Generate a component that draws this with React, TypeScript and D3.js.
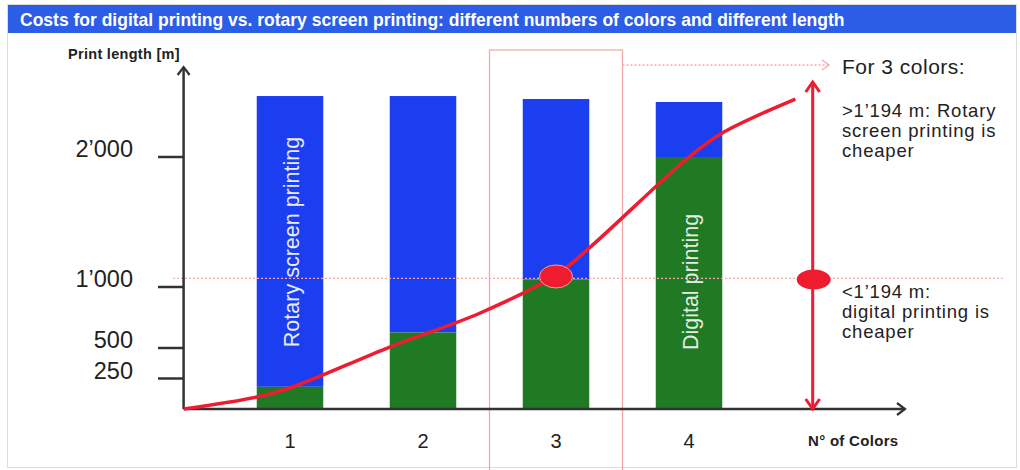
import React from "react";
import * as d3 from "d3";

// ---- data ----
const colorCounts = [1, 2, 3, 4];
const xTickLabels = ["1", "2", "3", "4"];
const totalLength = [2469, 2469, 2446, 2423]; // top of each bar (m)
const digitalLength = [182, 627, 1058, 2000]; // green part (m)
const yTickValues = [250, 500, 1000, 2000];
const yTickLabels = ["250", "500", "1\u2019000", "2\u2019000"];
const curveColors = [0.2, 0.75, 1, 1.75, 2.43, 3, 3.25, 4, 4.25, 4.8];
const curveLength = [0, 98, 172, 508, 787, 1092, 1300, 2000, 2185, 2446];
const breakEven = 1058;
const focusColors = 3;

const FONT = "'Liberation Sans', Arial, Helvetica, sans-serif";
const RED = "#ee1c2e";
const PINK = "#f6a8a8";
const BLUE = "#1b3ff0";
const GREEN = "#1f7a23";
const AXIS = "#333";

export default function App() {
  const W = 1020;
  const H = 470;
  const x = d3.scaleLinear().domain([1, 4]).range([290, 689]);
  const y = d3.scaleLinear().domain([0, 1000, 2000]).range([409, 287, 157]);
  const barW = x(1.25) - x(0.75);
  const x0 = x(0.2);
  const xEnd = 905;
  const y0 = y(0);
  const yTop = 67;
  const arrowX = x(4.93);

  const line = d3
    .line<number>()
    .x((_, i) => x(curveColors[i]))
    .y((d) => y(d))
    .curve(d3.curveCatmullRom.alpha(0.5));

  const boxL = x(focusColors - 0.5);
  const boxR = x(focusColors + 0.5);

  const chevron = (tx: number, ty: number, dir: "up" | "down" | "right", s = 7, l = 9) => {
    if (dir === "up") return `M${tx - s},${ty + l}L${tx},${ty}L${tx + s},${ty + l}`;
    if (dir === "down") return `M${tx - s},${ty - l}L${tx},${ty}L${tx + s},${ty - l}`;
    return `M${tx - l},${ty - s}L${tx},${ty}L${tx - l},${ty + s}`;
  };

  return (
    <svg
      width={W}
      height={H}
      style={{ position: "absolute", left: 0, top: 0, display: "block", background: "#fff" }}
      fontFamily={FONT}
    >
      <rect x={0} y={0} width={W} height={H} fill="#fff" />
      <rect x={7.5} y={4.5} width={1009} height={463} fill="none" stroke="#dcdcdc" />
      {/* title bar */}
      <rect x={8} y={5} width={1008} height={28} fill="#2b5de6" />
      <text x={20} y={26} fill="#fff" fontWeight="bold" fontSize={17.5}>
        Costs for digital printing vs. rotary screen printing: different numbers of colors and different length
      </text>

      {/* highlight box for 3 colors */}
      <rect x={boxL} y={50} width={boxR - boxL} height={H} fill="none" stroke={PINK} strokeWidth={1.3} />
      <line x1={boxR} x2={828} y1={65} y2={65} stroke={PINK} strokeWidth={1.3} strokeDasharray="2,2" />
      <path d={chevron(829, 65, "right", 5, 7)} fill="none" stroke={PINK} strokeWidth={1.3} />

      {/* bars */}
      {colorCounts.map((c, i) => (
        <g key={c}>
          <rect x={x(c) - barW / 2} y={y(totalLength[i])} width={barW} height={y(digitalLength[i]) - y(totalLength[i])} fill={BLUE} />
          <rect x={x(c) - barW / 2} y={y(digitalLength[i])} width={barW} height={y0 - y(digitalLength[i])} fill={GREEN} />
        </g>
      ))}

      {/* break-even dotted line */}
      <line x1={173} x2={1005} y1={y(breakEven) - 1} y2={y(breakEven) - 1} stroke={PINK} strokeWidth={1.3} strokeDasharray="2,2" />

      {/* bar labels */}
      <text
        transform={`translate(${x(1) + 9},${242}) rotate(-90)`}
        textAnchor="middle"
        fill="#e9ecfb"
        fontSize={21.5}
      >
        Rotary screen printing
      </text>
      <text
        transform={`translate(${x(4) + 9},${282}) rotate(-90)`}
        textAnchor="middle"
        fill="#e4ece4"
        fontSize={21.5}
      >
        Digital printing
      </text>

      {/* axes */}
      <line x1={x0} x2={x0} y1={y0} y2={yTop} stroke={AXIS} strokeWidth={2.5} />
      <path d={chevron(x0, yTop, "up", 6, 8)} fill="none" stroke={AXIS} strokeWidth={2.2} />
      <line x1={x0} x2={xEnd} y1={y0} y2={y0} stroke={AXIS} strokeWidth={2.5} />
      <path d={chevron(xEnd, y0, "right", 6, 8)} fill="none" stroke={AXIS} strokeWidth={2.2} />
      {yTickValues.map((v, i) => (
        <g key={v}>
          <line x1={158} x2={x0} y1={y(v)} y2={y(v)} stroke={AXIS} strokeWidth={2.5} />
          <text x={133} y={y(v)} textAnchor="end" fontSize={23.5} fill="#222">
            {yTickLabels[i]}
          </text>
        </g>
      ))}
      <text x={68} y={59} fontWeight="bold" fontSize={14.5} letterSpacing={0.3} fill="#222">
        Print length [m]
      </text>
      {colorCounts.map((c, i) => (
        <text key={c} x={x(c)} y={448} textAnchor="middle" fontSize={20} fill="#222">
          {xTickLabels[i]}
        </text>
      ))}
      <text x={808} y={446} fontWeight="bold" fontSize={15} letterSpacing={0.3} fill="#222">
        N° of Colors
      </text>

      {/* cost curve */}
      <path d={line(curveLength) || ""} fill="none" stroke={RED} strokeWidth={3.5} />

      {/* break-even markers */}
      <ellipse cx={x(focusColors)} cy={y(breakEven) - 3} rx={16.5} ry={11.5} fill={RED} stroke="#f6a0a0" strokeWidth={1} />
      <line x1={arrowX} x2={arrowX} y1={82} y2={y0} stroke={RED} strokeWidth={3} />
      <path d={chevron(arrowX, 82, "up", 7, 10)} fill="none" stroke={RED} strokeWidth={3} />
      <path d={chevron(arrowX, y0, "down", 7, 10)} fill="none" stroke={RED} strokeWidth={3} />
      <ellipse cx={arrowX + 1} cy={y(breakEven)} rx={17} ry={10} fill={RED} />

      {/* annotations */}
      <text x={842} y={74} fontSize={21} letterSpacing={0.5} fill="#222">
        For 3 colors:
      </text>
      <text fontSize={18.5} letterSpacing={0.8} fill="#222">
        <tspan x={842} y={117}>&gt;1’194 m: Rotary</tspan>
        <tspan x={842} y={137}>screen printing is</tspan>
        <tspan x={842} y={157}>cheaper</tspan>
      </text>
      <text fontSize={18.5} letterSpacing={0.8} fill="#222">
        <tspan x={842} y={298}>&lt;1’194 m:</tspan>
        <tspan x={842} y={318}>digital printing is</tspan>
        <tspan x={842} y={338}>cheaper</tspan>
      </text>
    </svg>
  );
}
